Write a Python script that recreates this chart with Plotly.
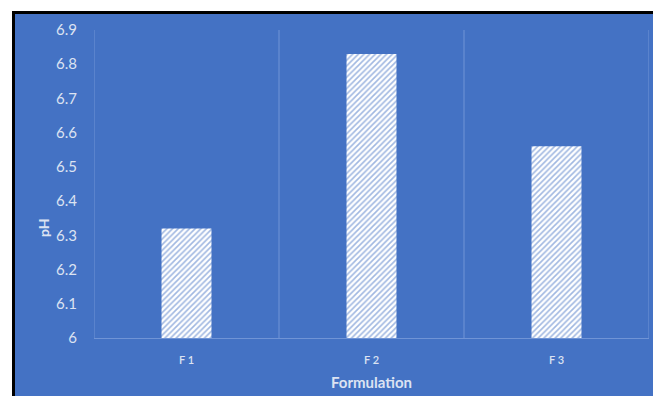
import plotly.graph_objects as go

# pH of each formulation
formulations = ["F 1", "F 2", "F 3"]
ph_values = [6.32, 6.83, 6.56]
y_ticks = [6.0, 6.1, 6.2, 6.3, 6.4, 6.5, 6.6, 6.7, 6.8, 6.9]
y_tick_text = ["6", "6.1", "6.2", "6.3", "6.4", "6.5", "6.6", "6.7", "6.8", "6.9"]

BLUE = "#4472C4"
GRID = "#7094D6"
TEXT = "#DCE3F2"

W, H = 653, 396
L, R, T, B = 94, 4, 30, 58
pw, ph = W - L - R, H - T - B


def px_to_paper_x(px):
    return (px - L) / pw


def px_to_paper_y(py):
    return (H - B - py) / ph


x_pos = list(range(len(formulations)))

fig = go.Figure(
    go.Bar(
        x=x_pos,
        y=ph_values,
        width=0.27,
        marker=dict(
            color="white",
            line=dict(width=0),
            pattern=dict(shape="/", bgcolor="white", fgcolor=BLUE,
                         size=4, solidity=0.4, fillmode="overlay"),
        ),
        base=0,
    )
)

shapes = []
# white margin at left and top, framed by black lines
shapes.append(dict(type="rect", xref="paper", yref="paper",
                   x0=px_to_paper_x(0), x1=px_to_paper_x(12.5),
                   y0=px_to_paper_y(H), y1=px_to_paper_y(0),
                   fillcolor="white", line=dict(width=0), layer="below"))
shapes.append(dict(type="rect", xref="paper", yref="paper",
                   x0=px_to_paper_x(0), x1=px_to_paper_x(W),
                   y0=px_to_paper_y(11.5), y1=px_to_paper_y(0),
                   fillcolor="white", line=dict(width=0), layer="below"))
shapes.append(dict(type="line", xref="paper", yref="paper",
                   x0=px_to_paper_x(13.5), x1=px_to_paper_x(13.5),
                   y0=px_to_paper_y(H), y1=px_to_paper_y(11),
                   line=dict(color="black", width=3)))
shapes.append(dict(type="line", xref="paper", yref="paper",
                   x0=px_to_paper_x(12), x1=px_to_paper_x(W),
                   y0=px_to_paper_y(12.5), y1=px_to_paper_y(12.5),
                   line=dict(color="black", width=3)))
# category separators
for xb in [-0.5, 0.5, 1.5, 2.5]:
    shapes.append(dict(type="line", xref="x", yref="paper",
                       x0=xb, x1=xb, y0=0, y1=1,
                       line=dict(color=GRID, width=1), layer="below"))

fig.update_layout(
    width=W, height=H,
    margin=dict(l=L, r=R, t=T, b=B, pad=0),
    paper_bgcolor=BLUE,
    plot_bgcolor=BLUE,
    showlegend=False,
    shapes=shapes,
    font=dict(family="Lato, Open Sans, sans-serif", color=TEXT),
    xaxis=dict(
        range=[-0.5, 2.5],
        tickvals=x_pos,
        ticktext=formulations,
        showgrid=False, zeroline=False,
        showline=True, linecolor=GRID, linewidth=1,
        ticks="", ticklabelstandoff=12,
        tickfont=dict(size=11, color=TEXT, family="Lato Semibold, Lato, sans-serif"),
    ),
    yaxis=dict(
        range=[6.0, 6.9],
        tickvals=y_ticks,
        ticktext=y_tick_text,
        showgrid=False, zeroline=False, showline=False,
        ticks="", ticklabelstandoff=16,
        tickfont=dict(size=15, color=TEXT),
    ),
    annotations=[
        dict(text="<b>Formulation</b>", xref="paper", yref="paper",
             x=0.5, y=px_to_paper_y(382), xanchor="center", yanchor="middle",
             showarrow=False, font=dict(size=15, color=TEXT)),
        dict(text="<b>pH</b>", xref="paper", yref="paper",
             x=px_to_paper_x(44), y=px_to_paper_y(228), xanchor="center", yanchor="middle",
             textangle=-90, showarrow=False, font=dict(size=14, color=TEXT)),
    ],
)

fig.write_html("out.html")
